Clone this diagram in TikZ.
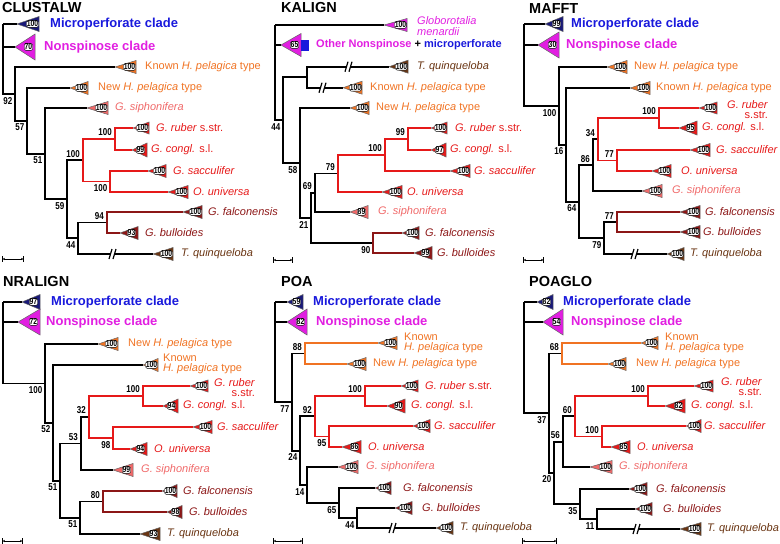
\documentclass[tikz,border=0pt]{standalone}
\usepackage{fontspec}
\setmainfont{Liberation Sans}
\newfontfamily\narrowsf[FakeStretch=0.8]{Liberation Sans}
\usepackage{xcolor}
\usepackage{tikz}
\usetikzlibrary{positioning, arrows.meta}

\definecolor{cblue}{RGB}{25,25,220}
\definecolor{cnavy}{RGB}{25,25,120}
\definecolor{cmag}{RGB}{225,30,225}
\definecolor{corange}{RGB}{240,115,35}
\definecolor{csalmon}{RGB}{240,105,105}
\definecolor{cred}{RGB}{230,25,25}
\definecolor{cmaroon}{RGB}{140,22,22}
\definecolor{cbrown}{RGB}{105,52,18}

\newcommand{\clade}[7]{%
  \coordinate (#1) at (#2,#3);
  \filldraw[tri, fill=#6] (#1) -- ++(#4,-#5) -- ++(0,2*#5) -- cycle;
  \node[num] (#1n) at ([xshift=#4pt-6.5pt]#1) {#7};}

\begin{document}
\begin{tikzpicture}[x=1pt, y=-1pt,
  br/.style={line width=1.8pt},
  tri/.style={draw=black!60, line width=0.5pt},
  num/.style={fill=white, draw=black, line width=0.35pt, rounded corners=1.5pt, inner sep=0.4pt, font=\narrowsf\bfseries\fontsize{8.5}{8.5}\selectfont},
  bs/.style={inner sep=0pt, font=\narrowsf\bfseries\fontsize{10}{10}\selectfont},
  bsa/.style={bs, above left=2.8pt and 3pt of #1},
  bsb/.style={bs, below left=3pt and 2.5pt of #1},
  lbl/.style={anchor=west, inner sep=0pt, align=left, font=\fontsize{11}{10.5}\selectfont},
  clbl/.style={anchor=west, inner sep=0pt, font=\bfseries\fontsize{13}{14}\selectfont},
  ttl/.style={anchor=west, inner sep=0pt, font=\bfseries\fontsize{14.5}{16}\selectfont},
  sbar/.style={>={Latex[length=2pt,width=2.4pt]}, |<->|, line width=0.6pt},
  brk/.pic={\fill[white] (-4,5) -- (0,5) -- (3,-5) -- (-1,-5) -- cycle;
            \draw[line width=1.2pt] (-4,5) -- (-1,-5) (0,5) -- (3,-5);}]

  \useasboundingbox (0,0) rectangle (780,544);

  \node[ttl] (cwttl) at (2,8) {CLUSTALW};
  \clade{cwmic}{17}{24}{22}{7.5}{cnavy}{100}
  \clade{cwnon}{15}{47}{20}{13}{cmag}{70}
  \clade{cwknown}{115}{67}{21}{6.5}{corange}{100}
  \clade{cwnew}{70}{88}{18}{6.5}{corange}{100}
  \clade{cwsiph}{87}{108}{21}{6.5}{csalmon}{100}
  \clade{cwrub}{133}{128}{16}{6}{cred}{100}
  \clade{cwcon}{132}{150}{15}{7}{cred}{99}
  \clade{cwsac}{148}{171}{18}{6.5}{cred}{100}
  \clade{cwuni}{168}{192}{20}{6.5}{cred}{100}
  \clade{cwfal}{183}{212}{19}{6.5}{cmaroon}{100}
  \clade{cwbul}{120}{233}{18}{6.5}{cmaroon}{93}
  \clade{cwtqu}{153}{254}{20}{6.5}{cbrown}{100}
  \coordinate (cwroot) at (3,24);
  \coordinate (cwa) at (15,93.9);
  \coordinate (cwb) at (27,120.8);
  \coordinate (cwc) at (45,153.6);
  \coordinate (cwd) at (67,199.3);
  \coordinate (cwe) at (83,160.3);
  \coordinate (cwg) at (115,139);
  \coordinate (cwh) at (110,181.5);
  \coordinate (cwi) at (78,238.3);
  \coordinate (cwf) at (107,222.5);
  \draw[br] (cwroot) |- (cwmic);
  \draw[br] (cwroot) |- (cwnon);
  \draw[br] (cwroot) |- (cwa);
  \draw[br] (cwa) |- (cwknown);
  \draw[br] (cwa) |- (cwb);
  \draw[br] (cwb) |- (cwnew);
  \draw[br] (cwb) |- (cwc);
  \draw[br] (cwc) |- (cwsiph);
  \draw[br] (cwc) |- (cwd);
  \draw[br] (cwd) |- (cwe);
  \draw[br] (cwd) |- (cwi);
  \draw[br, cred] (cwe) |- (cwg);
  \draw[br, cred] (cwe) |- (cwh);
  \draw[br, cred] (cwg) |- (cwrub);
  \draw[br, cred] (cwg) |- (cwcon);
  \draw[br, cred] (cwh) |- (cwsac);
  \draw[br, cred] (cwh) |- (cwuni);
  \draw[br] (cwi) |- (cwf);
  \draw[br] (cwi) |- (cwtqu);
  \draw[br, cmaroon] (cwf) |- (cwfal);
  \draw[br, cmaroon] (cwf) |- (cwbul);
  \pic at (113,254) {brk};
  \node[bsb=cwa] (cwas) {92};
  \node[bsb=cwb] (cwbs) {57};
  \node[bsb=cwc] (cwcs) {51};
  \node[bsb=cwd] (cwds) {59};
  \node[bsa=cwe] (cwes) {100};
  \node[bsa=cwg] (cwgs) {100};
  \node[bsb=cwh] (cwhs) {100};
  \node[bsa=cwf] (cwfs) {94};
  \node[bsb=cwi] (cwis) {44};
  \node[clbl, text=cblue] (cwmict) at (50,24) {Microperforate clade};
  \node[clbl, text=cmag] (cwnont) at (44,47) {Nonspinose clade};
  \node[lbl, text=corange] (cwknownt) at (145,67) {Known \textit{H. pelagica} type};
  \node[lbl, text=corange] (cwnewt) at (98,88) {New \textit{H. pelagica} type};
  \node[lbl, text=csalmon] (cwsipht) at (115,108) {\textit{G. siphonifera}};
  \node[lbl, text=cred] (cwrubt) at (156,128) {\textit{G. ruber} s.str.};
  \node[lbl, text=cred] (cwcont) at (151,150) {\textit{G. congl.} s.l.};
  \node[lbl, text=cred] (cwsact) at (173,171) {\textit{G. sacculifer}};
  \node[lbl, text=cred] (cwunit) at (193,192) {\textit{O. universa}};
  \node[lbl, text=cmaroon] (cwfalt) at (208,212) {\textit{G. falconensis}};
  \node[lbl, text=cmaroon] (cwbult) at (145,233) {\textit{G. bulloides}};
  \node[lbl, text=cbrown] (cwtqut) at (181,254) {\textit{T. quinqueloba}};
  \coordinate (cwsb1) at (2,259);
  \coordinate (cwsb2) at (24,259);
  \draw[sbar] (cwsb1) -- (cwsb2);

  \node[ttl] (kattl) at (281,8) {KALIGN};
  \clade{kamen}{384}{25}{23}{6.5}{cmag}{100}
  \clade{kaoth}{281}{45}{20}{11.5}{cmag}{65}
  \clade{katqu}{389}{66.7}{19}{6.5}{cbrown}{100}
  \clade{kaknown}{343}{87.7}{19}{6.5}{corange}{100}
  \clade{kanew}{350}{108}{19}{6.5}{corange}{100}
  \clade{karub}{431}{128}{16}{6}{cred}{100}
  \clade{kacon}{431}{150}{15}{7}{cred}{97}
  \clade{kasac}{450}{171}{20}{6.5}{cred}{100}
  \clade{kauni}{382}{192}{20}{6.5}{cred}{100}
  \clade{kasiph}{350}{212}{18}{6.5}{csalmon}{89}
  \clade{kafal}{402}{233}{17}{6.5}{cmaroon}{100}
  \clade{kabul}{414}{253}{18}{6.5}{cmaroon}{99}
  \fill[cblue] (301,39.5) rectangle (309,50.5);
  \coordinate (karoot) at (275,25);
  \coordinate (kaa) at (283,120.1);
  \coordinate (kab) at (307,77.2);
  \coordinate (kad) at (300,163);
  \coordinate (kae) at (311,217.9);
  \coordinate (kaf) at (315,192.8);
  \coordinate (kag) at (338,173.5);
  \coordinate (kak) at (385,155);
  \coordinate (kal) at (408,139);
  \coordinate (kaj) at (373,243);
  \draw[br] (karoot) |- (kamen);
  \draw[br] (karoot) |- (kaoth);
  \draw[br] (karoot) |- (kaa);
  \draw[br] (kaa) |- (kab);
  \draw[br] (kaa) |- (kad);
  \draw[br] (kab) |- (katqu);
  \draw[br] (kab) |- (kaknown);
  \draw[br] (kad) |- (kanew);
  \draw[br] (kad) |- (kae);
  \draw[br] (kae) |- (kaf);
  \draw[br] (kae) |- (kaj);
  \draw[br] (kaf) |- (kag);
  \draw[br] (kaf) |- (kasiph);
  \draw[br, cred] (kag) |- (kak);
  \draw[br, cred] (kag) |- (kauni);
  \draw[br, cred] (kak) |- (kal);
  \draw[br, cred] (kak) |- (kasac);
  \draw[br, cred] (kal) |- (karub);
  \draw[br, cred] (kal) |- (kacon);
  \draw[br, cmaroon] (kaj) |- (kafal);
  \draw[br, cmaroon] (kaj) |- (kabul);
  \pic at (349,66.7) {brk};
  \pic at (323,87.7) {brk};
  \node[bsb=kaa] (kaas) {44};
  \node[bsb=kad] (kads) {58};
  \node[bsb=kae] (kaes) {21};
  \node[bsa=kaf] (kafs) {69};
  \node[bsa=kag] (kags) {79};
  \node[bsa=kak] (kaks) {100};
  \node[bsa=kal] (kals) {99};
  \node[bsb=kaj] (kajs) {90};
  \node[lbl, text=cmag] (kament) at (417,26) {\textit{Globorotalia}\\\textit{menardii}};
  \node[clbl, font=\bfseries\fontsize{11}{12}\selectfont] (kaotht) at (316,45) {\textcolor{cmag}{Other Nonspinose} + \textcolor{cblue}{microperforate}};
  \node[lbl, text=cbrown] (katqut) at (417,66.7) {\textit{T. quinqueloba}};
  \node[lbl, text=corange] (kaknownt) at (370,87.7) {Known \textit{H. pelagica} type};
  \node[lbl, text=corange] (kanewt) at (376,108) {New \textit{H. pelagica} type};
  \node[lbl, text=cred] (karubt) at (455,128) {\textit{G. ruber} s.str.};
  \node[lbl, text=cred] (kacont) at (450,150) {\textit{G. congl.} s.l.};
  \node[lbl, text=cred] (kasact) at (474,171) {\textit{G. sacculifer}};
  \node[lbl, text=cred] (kaunit) at (407,192) {\textit{O. universa}};
  \node[lbl, text=csalmon] (kasipht) at (378,212) {\textit{G. siphonifera}};
  \node[lbl, text=cmaroon] (kafalt) at (425,233) {\textit{G. falconensis}};
  \node[lbl, text=cmaroon] (kabult) at (437,253) {\textit{G. bulloides}};
  \coordinate (kasb1) at (273,260);
  \coordinate (kasb2) at (293,260);
  \draw[sbar] (kasb1) -- (kasb2);

  \node[ttl] (mattl) at (529,9) {MAFFT};
  \clade{mamic}{545}{24}{18}{7.5}{cnavy}{99}
  \clade{manon}{538}{45}{21}{13}{cmag}{30}
  \clade{manew}{607}{67}{20}{6.5}{corange}{100}
  \clade{maknown}{630}{88}{20}{6.5}{corange}{100}
  \clade{marub}{699}{108}{18}{6}{cred}{100}
  \clade{macon}{679}{128}{18}{7}{cred}{95}
  \clade{masac}{690}{150}{20}{6.5}{cred}{100}
  \clade{mauni}{652}{171}{19}{6.5}{cred}{100}
  \clade{masiph}{642}{191}{20}{6.5}{csalmon}{100}
  \clade{mafal}{680}{212}{20}{6.5}{cmaroon}{100}
  \clade{mabul}{680}{232}{20}{6.5}{cmaroon}{100}
  \clade{matqu}{667}{254}{17}{6.5}{cbrown}{100}
  \coordinate (maroot) at (524,24);
  \coordinate (maa) at (559,105.9);
  \coordinate (mab) at (566,144.8);
  \coordinate (mac) at (579,201.6);
  \coordinate (mad) at (593,165.1);
  \coordinate (mae) at (598,139.3);
  \coordinate (maf) at (659,118);
  \coordinate (mag) at (617,160.5);
  \coordinate (mah) at (604,238);
  \coordinate (mai) at (617,222);
  \draw[br] (maroot) |- (mamic);
  \draw[br] (maroot) |- (manon);
  \draw[br] (maroot) |- (maa);
  \draw[br] (maa) |- (manew);
  \draw[br] (maa) |- (mab);
  \draw[br] (mab) |- (maknown);
  \draw[br] (mab) |- (mac);
  \draw[br] (mac) |- (mad);
  \draw[br] (mac) |- (mah);
  \draw[br] (mad) |- (mae);
  \draw[br] (mad) |- (masiph);
  \draw[br, cred] (mae) |- (maf);
  \draw[br, cred] (mae) |- (mag);
  \draw[br, cred] (maf) |- (marub);
  \draw[br, cred] (maf) |- (macon);
  \draw[br, cred] (mag) |- (masac);
  \draw[br, cred] (mag) |- (mauni);
  \draw[br] (mah) |- (mai);
  \draw[br] (mah) |- (matqu);
  \draw[br, cmaroon] (mai) |- (mafal);
  \draw[br, cmaroon] (mai) |- (mabul);
  \pic at (635,254) {brk};
  \node[bsb=maa] (maas) {100};
  \node[bsb=mab] (mabs) {16};
  \node[bsb=mac] (macs) {64};
  \node[bsa=mad] (mads) {86};
  \node[bsa=mae] (maes) {34};
  \node[bsa=maf] (mafs) {100};
  \node[bsa=mag] (mags) {77};
  \node[bsa=mai] (mais) {77};
  \node[bsb=mah] (mahs) {79};
  \node[clbl, text=cblue] (mamict) at (571,24) {Microperforate clade};
  \node[clbl, text=cmag] (manont) at (566,45) {Nonspinose clade};
  \node[lbl, text=corange] (manewt) at (634,67) {New \textit{H. pelagica} type};
  \node[lbl, text=corange] (maknownt) at (656,88) {Known \textit{H. pelagica} type};
  \node[lbl, text=cred, align=right] (marubt) at (727,109.5) {\textit{G. ruber}\\s.str.};
  \node[lbl, text=cred] (macont) at (702,128) {\textit{G. congl.} s.l.};
  \node[lbl, text=cred] (masact) at (716,150) {\textit{G. sacculifer}};
  \node[lbl, text=cred] (maunit) at (681,171) {\textit{O. universa}};
  \node[lbl, text=csalmon] (masipht) at (672,191) {\textit{G. siphonifera}};
  \node[lbl, text=cmaroon] (mafalt) at (705,212) {\textit{G. falconensis}};
  \node[lbl, text=cmaroon] (mabult) at (703,232) {\textit{G. bulloides}};
  \node[lbl, text=cbrown] (matqut) at (690,254) {\textit{T. quinqueloba}};
  \coordinate (masb1) at (523,260);
  \coordinate (masb2) at (544,260);
  \draw[sbar] (masb1) -- (masb2);

  \node[ttl] (nrttl) at (3,282) {NRALIGN};
  \clade{nrmic}{22}{302}{18}{7.5}{cnavy}{97}
  \clade{nrnon}{18}{322}{22}{13}{cmag}{72}
  \clade{nrnew}{98}{344}{20}{6.5}{corange}{100}
  \clade{nrknown}{143}{365}{15}{6.5}{corange}{100}
  \clade{nrrub}{190}{386}{18}{6}{cred}{100}
  \clade{nrcon}{163}{406}{15}{7}{cred}{94}
  \clade{nrsac}{193}{427}{19}{6.5}{cred}{100}
  \clade{nruni}{130}{449}{17}{6.5}{cred}{94}
  \clade{nrsiph}{113}{470}{20}{6.5}{csalmon}{99}
  \clade{nrfal}{162}{491}{15}{6.5}{cmaroon}{100}
  \clade{nrbul}{167}{512}{15}{6.5}{cmaroon}{98}
  \clade{nrtqu}{140}{534}{20}{6.5}{cbrown}{93}
  \coordinate (nrroot) at (3,302);
  \coordinate (nra) at (45,383.4);
  \coordinate (nrb) at (53,422.8);
  \coordinate (nrc) at (60,480.6);
  \coordinate (nrd) at (81,443.5);
  \coordinate (nre) at (89,417);
  \coordinate (nrf) at (143,396);
  \coordinate (nrg) at (113,438);
  \coordinate (nrh) at (80,517.8);
  \coordinate (nri) at (103,501.5);
  \draw[br] (nrroot) |- (nrmic);
  \draw[br] (nrroot) |- (nrnon);
  \draw[br] (nrroot) |- (nra);
  \draw[br] (nra) |- (nrnew);
  \draw[br] (nra) |- (nrb);
  \draw[br] (nrb) |- (nrknown);
  \draw[br] (nrb) |- (nrc);
  \draw[br] (nrc) |- (nrd);
  \draw[br] (nrc) |- (nrh);
  \draw[br] (nrd) |- (nre);
  \draw[br] (nrd) |- (nrsiph);
  \draw[br, cred] (nre) |- (nrf);
  \draw[br, cred] (nre) |- (nrg);
  \draw[br, cred] (nrf) |- (nrrub);
  \draw[br, cred] (nrf) |- (nrcon);
  \draw[br, cred] (nrg) |- (nrsac);
  \draw[br, cred] (nrg) |- (nruni);
  \draw[br] (nrh) |- (nri);
  \draw[br] (nrh) |- (nrtqu);
  \draw[br, cmaroon] (nri) |- (nrfal);
  \draw[br, cmaroon] (nri) |- (nrbul);
  \node[bsb=nra] (nras) {100};
  \node[bsb=nrb] (nrbs) {52};
  \node[bsb=nrc] (nrcs) {51};
  \node[bsa=nrd] (nrds) {53};
  \node[bsa=nre] (nres) {32};
  \node[bsa=nrf] (nrfs) {100};
  \node[bsb=nrg] (nrgs) {98};
  \node[bsa=nri] (nris) {80};
  \node[bsb=nrh] (nrhs) {51};
  \node[clbl, text=cblue] (nrmict) at (51,302) {Microperforate clade};
  \node[clbl, text=cmag] (nrnont) at (46,322) {Nonspinose clade};
  \node[lbl, text=corange] (nrnewt) at (128,344) {New \textit{H. pelagica} type};
  \node[lbl, text=corange] (nrknownt) at (163,364) {Known\\\textit{H. pelagica} type};
  \node[lbl, text=cred, align=right] (nrrubt) at (214,387.5) {\textit{G. ruber}\\s.str.};
  \node[lbl, text=cred] (nrcont) at (183,406) {\textit{G. congl.} s.l.};
  \node[lbl, text=cred] (nrsact) at (217,427) {\textit{G. sacculifer}};
  \node[lbl, text=cred] (nrunit) at (154,449) {\textit{O. universa}};
  \node[lbl, text=csalmon] (nrsipht) at (141,470) {\textit{G. siphonifera}};
  \node[lbl, text=cmaroon] (nrfalt) at (183,491) {\textit{G. falconensis}};
  \node[lbl, text=cmaroon] (nrbult) at (189,512) {\textit{G. bulloides}};
  \node[lbl, text=cbrown] (nrtqut) at (167,534) {\textit{T. quinqueloba}};
  \coordinate (nrsb1) at (2,541);
  \coordinate (nrsb2) at (23,541);
  \draw[sbar] (nrsb1) -- (nrsb2);

  \node[ttl] (pottl) at (281,282) {POA};
  \clade{pomic}{287}{302}{16}{7.5}{cnavy}{59}
  \clade{ponon}{287}{322}{20}{13}{cmag}{82}
  \clade{poknown}{378}{343}{19}{6.5}{corange}{100}
  \clade{ponew}{347}{364}{19}{6.5}{corange}{100}
  \clade{porub}{401}{386}{17}{6}{cred}{100}
  \clade{pocon}{387}{406}{18}{7}{cred}{90}
  \clade{posac}{413}{426}{17}{6.5}{cred}{100}
  \clade{pouni}{342}{447}{19}{6.5}{cred}{86}
  \clade{posiph}{338}{467}{20}{6.5}{csalmon}{100}
  \clade{pofal}{375}{488}{16}{6.5}{cmaroon}{100}
  \clade{pobul}{395}{508}{17}{6.5}{cmaroon}{100}
  \clade{potqu}{436}{528}{17}{6.5}{cbrown}{100}
  \coordinate (poroot) at (275,302);
  \coordinate (poa) at (292,402);
  \coordinate (pob) at (305,353.5);
  \coordinate (poc) at (300,450.6);
  \coordinate (pod) at (307,485);
  \coordinate (poe) at (315,416.3);
  \coordinate (poh) at (365,396);
  \coordinate (poi) at (329,436.5);
  \coordinate (pof) at (339,503);
  \coordinate (pog) at (357,518);
  \draw[br] (poroot) |- (pomic);
  \draw[br] (poroot) |- (ponon);
  \draw[br] (poroot) |- (poa);
  \draw[br] (poa) |- (pob);
  \draw[br] (poa) |- (poc);
  \draw[br, corange] (pob) |- (poknown);
  \draw[br, corange] (pob) |- (ponew);
  \draw[br] (poc) |- (poe);
  \draw[br] (poc) |- (pod);
  \draw[br, cred] (poe) |- (poh);
  \draw[br, cred] (poe) |- (poi);
  \draw[br, cred] (poh) |- (porub);
  \draw[br, cred] (poh) |- (pocon);
  \draw[br, cred] (poi) |- (posac);
  \draw[br, cred] (poi) |- (pouni);
  \draw[br] (pod) |- (posiph);
  \draw[br] (pod) |- (pof);
  \draw[br] (pof) |- (pofal);
  \draw[br] (pof) |- (pog);
  \draw[br] (pog) |- (pobul);
  \draw[br] (pog) |- (potqu);
  \pic at (393,528) {brk};
  \node[bsb=poa] (poas) {77};
  \node[bsa=pob] (pobs) {88};
  \node[bsb=poc] (pocs) {24};
  \node[bsa=poe] (poes) {92};
  \node[bsa=poh] (pohs) {100};
  \node[bsb=poi] (pois) {95};
  \node[bsb=pod] (pods) {14};
  \node[bsb=pof] (pofs) {65};
  \node[bsb=pog] (pogs) {44};
  \node[clbl, text=cblue] (pomict) at (313,302) {Microperforate clade};
  \node[clbl, text=cmag] (ponont) at (316,322) {Nonspinose clade};
  \node[lbl, text=corange] (poknownt) at (404,343) {Known\\\textit{H. pelagica} type};
  \node[lbl, text=corange] (ponewt) at (373,364) {New \textit{H. pelagica} type};
  \node[lbl, text=cred] (porubt) at (425,386) {\textit{G. ruber} s.str.};
  \node[lbl, text=cred] (pocont) at (411,406) {\textit{G. congl.} s.l.};
  \node[lbl, text=cred] (posact) at (434,426) {\textit{G. sacculifer}};
  \node[lbl, text=cred] (pounit) at (368,447) {\textit{O. universa}};
  \node[lbl, text=csalmon] (posipht) at (366,467) {\textit{G. siphonifera}};
  \node[lbl, text=cmaroon] (pofalt) at (403,488) {\textit{G. falconensis}};
  \node[lbl, text=cmaroon] (pobult) at (422,508) {\textit{G. bulloides}};
  \node[lbl, text=cbrown] (potqut) at (460,528) {\textit{T. quinqueloba}};
  \coordinate (posb1) at (273,541);
  \coordinate (posb2) at (303,541);
  \draw[sbar] (posb1) -- (posb2);

  \node[ttl] (pgttl) at (529,282) {POAGLO};
  \clade{pgmic}{537}{302}{16}{7.5}{cnavy}{82}
  \clade{pgnon}{543}{322}{20}{13}{cmag}{54}
  \clade{pgknown}{641}{343}{17}{6.5}{corange}{100}
  \clade{pgnew}{608}{364}{18}{6.5}{corange}{100}
  \clade{pgrub}{694}{386}{19}{6}{cred}{100}
  \clade{pgcon}{665}{406}{20}{7}{cred}{82}
  \clade{pgsac}{686}{426}{15}{6.5}{cred}{100}
  \clade{pguni}{611}{447}{19}{6.5}{cred}{85}
  \clade{pgsiph}{590}{467}{22}{6.5}{csalmon}{100}
  \clade{pgfal}{629}{489}{18}{6.5}{cmaroon}{100}
  \clade{pgbul}{635}{509}{17}{6.5}{cmaroon}{100}
  \clade{pgtqu}{680}{529}{21}{6.5}{cbrown}{100}
  \coordinate (pgroot) at (524,302);
  \coordinate (pga) at (549,413.2);
  \coordinate (pgb) at (562,353.5);
  \coordinate (pgc) at (554,472.8);
  \coordinate (pgd) at (563,441.6);
  \coordinate (pge) at (575,416.3);
  \coordinate (pgf) at (648,396);
  \coordinate (pgg) at (602,436.5);
  \coordinate (pgh) at (580,504);
  \coordinate (pgi) at (597,519);
  \draw[br] (pgroot) |- (pgmic);
  \draw[br] (pgroot) |- (pgnon);
  \draw[br] (pgroot) |- (pga);
  \draw[br] (pga) |- (pgb);
  \draw[br] (pga) |- (pgc);
  \draw[br, corange] (pgb) |- (pgknown);
  \draw[br, corange] (pgb) |- (pgnew);
  \draw[br] (pgc) |- (pgd);
  \draw[br] (pgc) |- (pgh);
  \draw[br] (pgd) |- (pge);
  \draw[br] (pgd) |- (pgsiph);
  \draw[br, cred] (pge) |- (pgf);
  \draw[br, cred] (pge) |- (pgg);
  \draw[br, cred] (pgf) |- (pgrub);
  \draw[br, cred] (pgf) |- (pgcon);
  \draw[br, cred] (pgg) |- (pgsac);
  \draw[br, cred] (pgg) |- (pguni);
  \draw[br] (pgh) |- (pgfal);
  \draw[br] (pgh) |- (pgi);
  \draw[br] (pgi) |- (pgbul);
  \draw[br] (pgi) |- (pgtqu);
  \pic at (637,529) {brk};
  \node[bsb=pga] (pgas) {37};
  \node[bsa=pgb] (pgbs) {68};
  \node[bsb=pgc] (pgcs) {20};
  \node[bsa=pgd] (pgds) {56};
  \node[bsa=pge] (pges) {60};
  \node[bsa=pgf] (pgfs) {100};
  \node[bsa=pgg] (pggs) {100};
  \node[bsb=pgh] (pghs) {35};
  \node[bsb=pgi] (pgis) {11};
  \node[clbl, text=cblue] (pgmict) at (563,302) {Microperforate clade};
  \node[clbl, text=cmag] (pgnont) at (571,322) {Nonspinose clade};
  \node[lbl, text=corange] (pgknownt) at (665,343) {Known\\\textit{H. pelagica} type};
  \node[lbl, text=corange] (pgnewt) at (636,364) {New \textit{H. pelagica} type};
  \node[lbl, text=cred, align=right] (pgrubt) at (721,386.5) {\textit{G. ruber}\\s.str.};
  \node[lbl, text=cred] (pgcont) at (691,406) {\textit{G. congl.} s.l.};
  \node[lbl, text=cred] (pgsact) at (704,426) {\textit{G. sacculifer}};
  \node[lbl, text=cred] (pgunit) at (637,447) {\textit{O. universa}};
  \node[lbl, text=csalmon] (pgsipht) at (619,467) {\textit{G. siphonifera}};
  \node[lbl, text=cmaroon] (pgfalt) at (656,489) {\textit{G. falconensis}};
  \node[lbl, text=cmaroon] (pgbult) at (663,509) {\textit{G. bulloides}};
  \node[lbl, text=cbrown] (pgtqut) at (707,529) {\textit{T. quinqueloba}};
  \coordinate (pgsb1) at (522,541);
  \coordinate (pgsb2) at (557,541);
  \draw[sbar] (pgsb1) -- (pgsb2);
\end{tikzpicture}
\end{document}
